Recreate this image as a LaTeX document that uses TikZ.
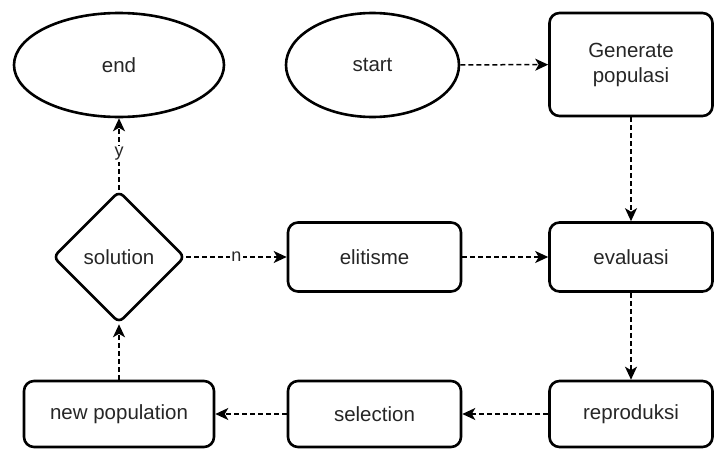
\documentclass[tikz,border=0pt]{standalone}
\usepackage{fontspec}
\setmainfont{Liberation Sans}
\usetikzlibrary{arrows.meta, positioning, shapes.geometric}

\begin{document}
\begin{tikzpicture}[
  x=1pt, y=-1pt,
  >={Stealth[length=13pt,width=12pt,inset=3.5pt]},
  term/.style={ellipse,draw,line width=2.6pt,minimum width=210pt,minimum height=104pt,font=\fontsize{20.5}{25}\selectfont,text=black!85},
  proc/.style={draw,rounded corners=10pt,line width=2.6pt,minimum width=163pt,minimum height=69pt,align=center,font=\fontsize{20.5}{25}\selectfont,text=black!85},
  decide/.style={diamond,draw,rounded corners=6pt,line width=2.6pt,minimum width=132pt,minimum height=132pt,inner sep=0pt,font=\fontsize{20.5}{25}\selectfont,text=black!85},
  flow/.style={->,line width=1.5pt,dash pattern=on 5pt off 3pt},
  tag/.style={fill=white,inner sep=1pt,font=\fontsize{18}{20}\selectfont,text=black!85}
]
\useasboundingbox (0,0) rectangle (716,450);

% ----- Row 1 ---------------------------------------------------------------
\node[term]                                        (stop)   at (119,65)    {end};
\node[term,minimum width=173pt]                    (start)  at (372.5,65)  {start};
\node[proc,minimum height=103pt]                   (gen)    at (631,64.5)  {Generate\\populasi};

% ----- Row 2 ---------------------------------------------------------------
\node[decide]                                      (sol)    at (119,257)   {solution};
\node[proc,minimum width=173pt]                    (elit)   at (374.5,257) {elitisme};
\node[proc]                                        (eval)   at (631,257)   {evaluasi};

% ----- Row 3 ---------------------------------------------------------------
\node[proc,minimum width=190pt,minimum height=66pt] (newpop) at (119,414)   {new population};
\node[proc,minimum width=173pt,minimum height=66pt] (sel)    at (374.5,414) {selection};
\node[proc,minimum height=66pt]                     (repro)  at (631,414)   {reproduksi};

% ----- Connectors ----------------------------------------------------------
\draw[flow] (start) -- (gen);
\draw[flow] (gen) -- (eval);
\draw[flow] (elit) -- (eval);
\draw[flow] (eval) -- (repro);
\draw[flow] (repro) -- (sel);
\draw[flow] (sel) -- (newpop);
\draw[flow] (newpop) -- (sol);
\draw[flow] (sol) -- node[tag]{y} (stop);
\draw[flow] (sol) -- node[tag]{n} (elit);

\end{tikzpicture}
\end{document}
